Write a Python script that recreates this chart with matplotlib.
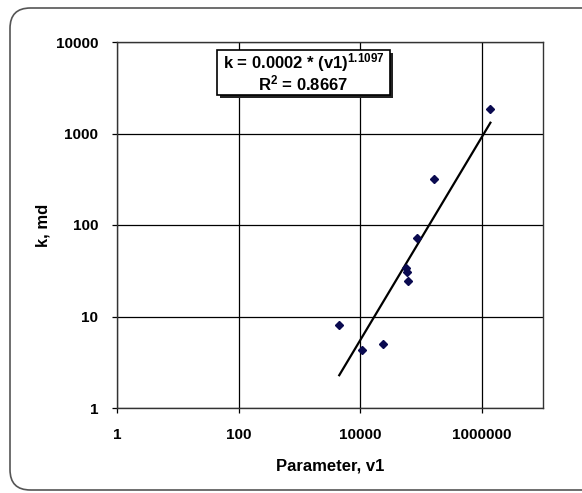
import matplotlib
matplotlib.use("Agg")
import matplotlib.pyplot as plt
import numpy as np
from matplotlib.patches import FancyBboxPatch
from matplotlib.ticker import FixedLocator, FixedFormatter, NullLocator

plt.rcParams['font.family'] = ['Liberation Sans', 'DejaVu Sans']
plt.rcParams['mathtext.fontset'] = 'custom'
plt.rcParams['mathtext.rm'] = 'Liberation Sans:bold'
plt.rcParams['mathtext.it'] = 'Liberation Sans:bold'
plt.rcParams['mathtext.bf'] = 'Liberation Sans:bold'
plt.rcParams['mathtext.default'] = 'regular'

# data
v1 = [1.39e6, 1.65e5, 8.7e4, 5.67e4, 5.97e4, 6.12e4, 4530, 10900, 23500]
k_md = [1830, 315, 72, 34, 31, 24.3, 8.05, 4.3, 5.0]

# trend (as shown in chart)
coef_a = 0.0002
coef_b = 1.1097
r2 = 0.8667

xticks = [1, 100, 10000, 1000000]
xticklabels = ["1", "100", "10000", "1000000"]
yticks = [1, 10, 100, 1000, 10000]
yticklabels = ["1", "10", "100", "1000", "10000"]

W, H = 582, 493
fig = plt.figure(figsize=(W / 100, H / 100), dpi=100)

# outer rounded border
border = FancyBboxPatch((10 / W, 1 - 490 / H), 600 / W, 482 / H,
                        boxstyle="round,pad=0,rounding_size=0.035",
                        transform=fig.transFigure, fill=False,
                        edgecolor='#555555', linewidth=1.2, clip_on=False,
                        mutation_aspect=W / H)
fig.patches.append(border)

left, right, top, bottom = 117, 542.5, 42, 408
ax = fig.add_axes([left / W, 1 - bottom / H, (right - left) / W, (bottom - top) / H])
ax.set_xscale('log')
ax.set_yscale('log')
ax.set_xlim(1, 1e7)
ax.set_ylim(1, 1e4)

ax.xaxis.set_major_locator(FixedLocator(xticks + [1e8]))
ax.xaxis.set_major_formatter(FixedFormatter(xticklabels + [""]))
ax.yaxis.set_major_locator(FixedLocator(yticks))
ax.yaxis.set_major_formatter(FixedFormatter(yticklabels))
ax.xaxis.set_minor_locator(NullLocator())
ax.yaxis.set_minor_locator(NullLocator())

ax.grid(True, which='major', color='black', linewidth=0.9)
ax.set_axisbelow(True)
for s in ax.spines.values():
    s.set_color('#333333')
    s.set_linewidth(1.0)
ax.tick_params(axis='both', direction='out', length=3.6, width=0.9, color='black',
               labelsize=11)
for lab in ax.get_xticklabels() + ax.get_yticklabels():
    lab.set_fontweight('bold')
ax.tick_params(axis='y', pad=10)
ax.tick_params(axis='x', pad=11)

# trend line over data range
xs = np.logspace(np.log10(min(v1)), np.log10(max(v1)), 50)
ax.plot(xs, coef_a * xs ** coef_b, color='black', linewidth=1.6, zorder=3)

ax.plot(v1, k_md, linestyle='none', marker='D', markersize=4.5,
        color='#0a0a50', zorder=4)

ax.set_xlabel("Parameter, v1", fontsize=12, fontweight='bold', labelpad=12)
ax.set_ylabel("k, md", fontsize=12, fontweight='bold', labelpad=3.5)

# equation box with shadow
bx0, by0, bx1, by1 = 217, 50, 390, 95
shadow = plt.Rectangle(((bx0 + 3) / W, 1 - (by1 + 3) / H), (bx1 - bx0) / W, (by1 - by0) / H,
                       transform=fig.transFigure, facecolor='#222222', edgecolor='none',
                       zorder=10)
box = plt.Rectangle((bx0 / W, 1 - by1 / H), (bx1 - bx0) / W, (by1 - by0) / H,
                    transform=fig.transFigure, facecolor='white', edgecolor='black',
                    linewidth=1.2, zorder=11)
fig.patches.extend([shadow, box])
cx = (bx0 + bx1) / 2 / W
fig.text(cx, 1 - 63 / H, r"k = %.4f * (v1)$^{%.4f}$" % (coef_a, coef_b),
         ha='center', va='center', fontsize=12, fontweight='bold', zorder=12)
fig.text(cx, 1 - 83 / H, r"R$^{2}$ = %.4f" % r2,
         ha='center', va='center', fontsize=12, fontweight='bold', zorder=12)

fig.savefig("out.png", dpi=100)
